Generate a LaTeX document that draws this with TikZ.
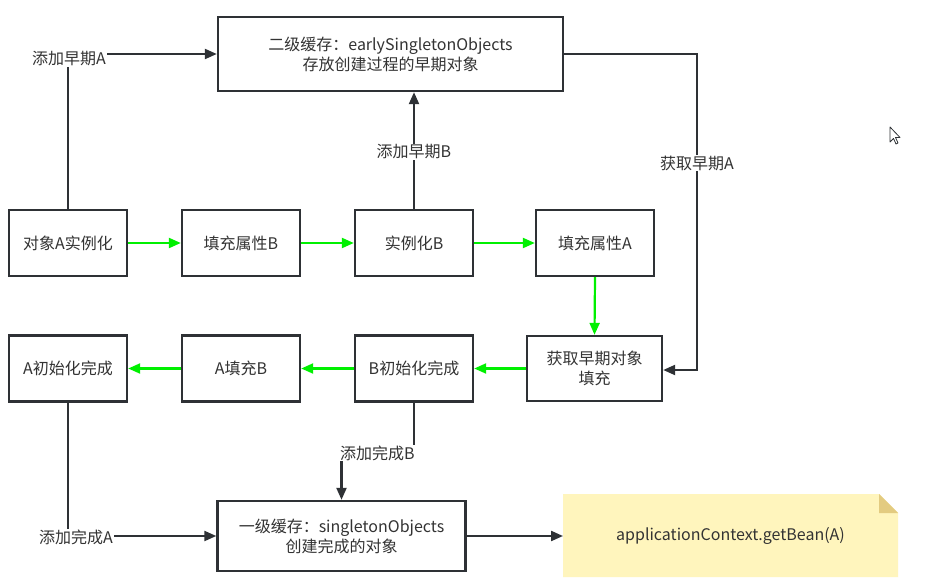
\documentclass[tikz,border=0pt]{standalone}
\usepackage{fontspec}
\setmainfont{Noto Sans CJK SC}
\usetikzlibrary{arrows.meta,calc}
\definecolor{ln}{HTML}{2E3135}
\definecolor{tx}{HTML}{333333}
\definecolor{gr}{HTML}{00F000}
\definecolor{notefill}{HTML}{FFF5BD}
\definecolor{notefold}{HTML}{E3CB80}
\tikzset{
  box/.style={draw=ln,line width=2.4pt,fill=white,text=tx,align=center,inner sep=0pt,font=\fontsize{16}{20}\selectfont},
  rowbox/.style={box,minimum width=118pt,minimum height=66pt},
  lbl/.style={fill=white,text=tx,inner sep=1pt,font=\fontsize{16}{19}\selectfont},
  blk/.style={draw=ln,line width=2.2pt,-{Triangle[length=12pt,width=10pt]}},
  grn/.style={draw=gr,line width=2.2pt,-{Triangle[length=12pt,width=10pt]}}
}
\begin{document}
\begin{tikzpicture}[x=1pt,y=-1pt]
\useasboundingbox (0,0) rectangle (947,585);
\fill[white] (0,0) rectangle (947,585);
% nodes
\node[box,minimum width=345pt,minimum height=74pt] (early) at (390.5,54) {二级缓存：earlySingletonObjects\\存放创建过程的早期对象};
\node[rowbox] (a1) at (68,243) {对象A实例化};
\node[rowbox] (fb) at (241,243) {填充属性B};
\node[rowbox] (ib) at (414,243) {实例化B};
\node[rowbox] (fa) at (595,243) {填充属性A};
\node[box,minimum width=135pt,minimum height=65pt] (get) at (594.5,368.5) {获取早期对象\\填充};
\node[rowbox] (binit) at (414,368.5) {B初始化完成};
\node[rowbox] (afill) at (241,368.5) {A填充B};
\node[rowbox] (ainit) at (68,368.5) {A初始化完成};
\node[box,minimum width=248pt,minimum height=70pt] (single) at (341.5,536) {一级缓存：singletonObjects\\创建完成的对象};
% note
\fill[notefill] (563,494) -- (879,494) -- (898,513) -- (898,577) -- (563,577) -- cycle;
\fill[notefold] (879,494) -- (898,513) -- (879,513) -- cycle;
\node[text=tx,inner sep=0pt,font=\fontsize{16}{19}\selectfont] (note) at (730.5,536) {applicationContext.getBean(A)};
\coordinate (noteL) at (563,536);
% green flow
\draw[grn] (a1.east) -- (fb.west);
\draw[grn] (fb.east) -- (ib.west);
\draw[grn] (ib.east) -- (fa.west);
\draw[grn] (fa.south) -- (get.north);
\draw[grn] (get.west) -- (binit.east);
\draw[grn] (binit.west) -- (afill.east);
\draw[grn] (afill.west) -- (ainit.east);
% black connectors
\coordinate (cA) at (a1.north |- early.west);
\draw[blk] (a1.north) -- (cA) -- (early.west);
\node[lbl] (lA) at (69,59) {添加早期A};
\draw[blk] (ib.north) -- (early.south -| ib.north);
\node[lbl] (lB) at (414,152) {添加早期B};
\coordinate (rA1) at (697,54);
\coordinate (rA2) at (697,370);
\draw[blk] (early.east |- rA1) -- (rA1) -- (rA2) -- (get.east |- rA2);
\node[lbl] (lgA) at (697,163) {获取早期A};
\coordinate (cB1) at (414,453);
\coordinate (cB2) at (341.5,453);
\draw[blk] (binit.south) -- (cB1) -- (cB2) -- (single.north);
\node[lbl] (lcB) at (377.5,453) {添加完成B};
\coordinate (cA2) at (ainit.south |- single.west);
\draw[blk] (ainit.south) -- (cA2) -- (single.west);
\node[lbl] (lcA) at (76,537) {添加完成A};
\draw[blk] (single.east) -- (noteL);
% mouse cursor
\draw[ln,line width=0.8pt,fill=white,line join=round] (890,127) -- (890,142) -- (893.5,138.5) -- (896,144) -- (898,143) -- (895.5,137.5) -- (900,137.5) -- cycle;
\end{tikzpicture}
\end{document}
